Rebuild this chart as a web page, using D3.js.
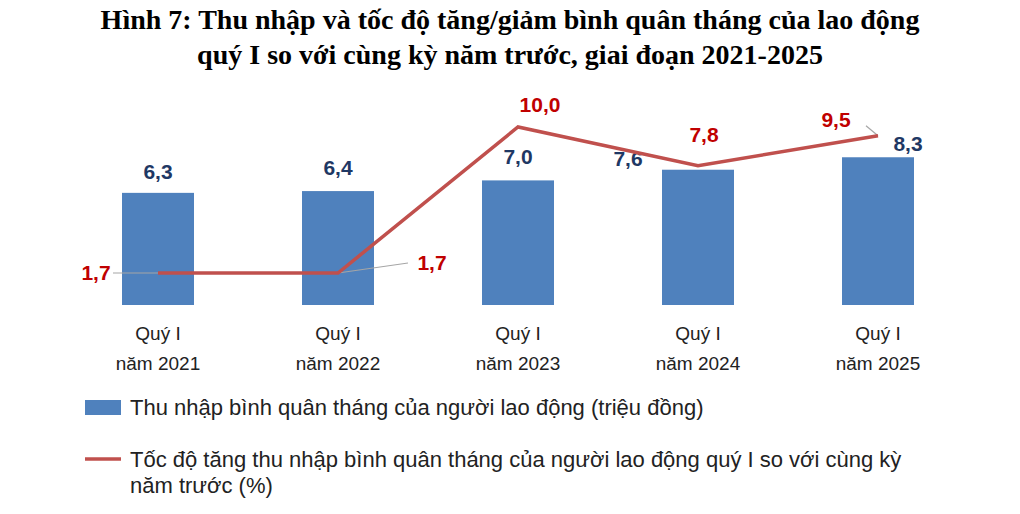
<!DOCTYPE html>
<html><head><meta charset="utf-8">
<script src="https://cdn.jsdelivr.net/npm/d3@7"></script>
<style>body{margin:0;background:#fff}</style></head>
<body><svg id="c" width="1020" height="514"></svg>
<script>
var categories = ["Quý I|năm 2021", "Quý I|năm 2022", "Quý I|năm 2023", "Quý I|năm 2024", "Quý I|năm 2025"];
var income = [6.3, 6.4, 7.0, 7.6, 8.3];
var growth = [1.7, 1.7, 10.0, 7.8, 9.5];
var incomeLabels = ["6,3", "6,4", "7,0", "7,6", "8,3"];
var growthLabels = ["1,7", "1,7", "10,0", "7,8", "9,5"];

var svg = d3.select("#c");
var x = d3.scaleBand().domain(d3.range(5)).range([68, 968]).paddingInner(0.6).paddingOuter(0.3);
var yBar = d3.scaleLinear().domain([0, 10]).range([305, 127]);
var yLine = d3.scaleLinear().domain([1.7, 10]).range([273, 127]);
var cx = function(i) { return x(i) + x.bandwidth() / 2; };

var tf = "bold 28px 'Liberation Serif', serif";
svg.append("text").attr("x", 510).attr("y", 29).attr("text-anchor", "middle")
  .style("font", tf).text("Hình 7: Thu nhập và tốc độ tăng/giảm bình quân tháng của lao động");
svg.append("text").attr("x", 510).attr("y", 64).attr("text-anchor", "middle")
  .style("font", tf).text("quý I so với cùng kỳ năm trước, giai đoạn 2021-2025");

svg.selectAll(".bar").data(income).enter().append("rect")
  .attr("x", function(d, i) { return x(i); }).attr("width", x.bandwidth())
  .attr("y", function(d) { return yBar(d); }).attr("height", function(d) { return yBar(0) - yBar(d); })
  .attr("fill", "#4f81bd");

var vf = "bold 21px 'Liberation Sans', Arial, sans-serif";
var barOff = [[0, -14], [0, -16], [0, -16], [-70, -4], [30, -6]];
svg.selectAll(".bl").data(income).enter().append("text")
  .attr("x", function(d, i) { return cx(i) + barOff[i][0]; })
  .attr("y", function(d, i) { return yBar(d) + barOff[i][1]; })
  .attr("text-anchor", "middle").attr("fill", "#1f3864").style("font", vf)
  .text(function(d, i) { return incomeLabels[i]; });

var lineOff = [[-62, 7], [94, -3], [22, -15], [6, -24], [-42, -9]];
var lead = [[-45, 0], [70, -10], null, null, [-12, -10]];
lead.forEach(function(l, i) {
  if (!l) return;
  svg.append("line").attr("x1", cx(i) + l[0]).attr("y1", yLine(growth[i]) + l[1])
    .attr("x2", cx(i)).attr("y2", yLine(growth[i])).attr("stroke", "#a6a6a6").attr("stroke-width", 1.2);
});

svg.append("path").datum(growth)
  .attr("d", d3.line().x(function(d, i) { return cx(i); }).y(function(d) { return yLine(d); }))
  .attr("fill", "none").attr("stroke", "#c0504d").attr("stroke-width", 3.5);

svg.selectAll(".ll").data(growth).enter().append("text")
  .attr("x", function(d, i) { return cx(i) + lineOff[i][0]; })
  .attr("y", function(d, i) { return yLine(d) + lineOff[i][1]; })
  .attr("text-anchor", "middle").attr("fill", "#c00000").style("font", vf)
  .text(function(d, i) { return growthLabels[i]; });

categories.forEach(function(c, i) {
  var t = svg.append("text").attr("text-anchor", "middle").attr("fill", "#222")
    .style("font", "19px 'Liberation Sans', Arial, sans-serif");
  c.split("|").forEach(function(s, k) {
    t.append("tspan").attr("x", cx(i)).attr("y", 340 + k * 30).text(s);
  });
});

var lf = "22px 'Liberation Sans', Arial, sans-serif";
svg.append("rect").attr("x", 85).attr("y", 400).attr("width", 36).attr("height", 15).attr("fill", "#4f81bd");
svg.append("text").attr("x", 130).attr("y", 415).style("font", lf).attr("fill", "#222")
  .text("Thu nhập bình quân tháng của người lao động (triệu đồng)");
svg.append("line").attr("x1", 85).attr("x2", 121).attr("y1", 459).attr("y2", 459)
  .attr("stroke", "#c0504d").attr("stroke-width", 3.5);
svg.append("text").attr("x", 130).attr("y", 467).style("font", lf).attr("fill", "#222")
  .text("Tốc độ tăng thu nhập bình quân tháng của người lao động quý I so với cùng kỳ");
svg.append("text").attr("x", 130).attr("y", 493).style("font", lf).attr("fill", "#222")
  .text("năm trước (%)");
</script></body></html>
